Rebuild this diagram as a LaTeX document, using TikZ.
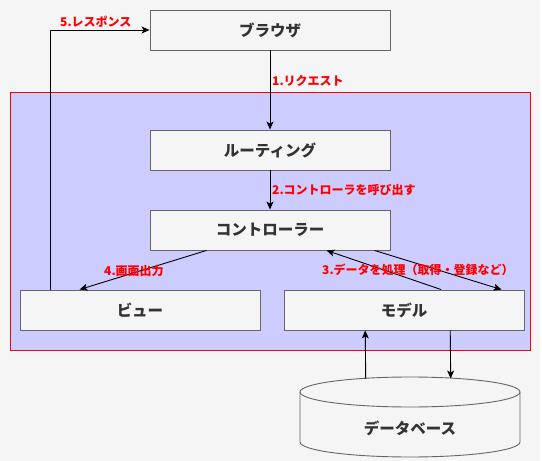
\documentclass[tikz,border=0pt]{standalone}
\usepackage{fontspec}
\setmainfont{Noto Sans CJK JP}
\usetikzlibrary{arrows.meta,calc}
\definecolor{boxfill}{HTML}{F5F5F5}
\definecolor{boxline}{HTML}{666666}
\definecolor{txt}{HTML}{333333}
\definecolor{cont}{HTML}{CCCCFF}
\definecolor{redc}{HTML}{FF0000}
\begin{document}
\begin{tikzpicture}[x=1pt,y=-1pt,
  box/.style={draw=boxline,fill=boxfill,line width=0.9pt,minimum width=240pt,minimum height=40pt,inner sep=0pt,text=txt,font=\fontsize{15.5}{18}\selectfont\bfseries},
  lbl/.style={anchor=west,inner sep=0pt,text=redc,font=\fontsize{12}{14}\selectfont\bfseries},
  arr/.style={draw=black,line width=0.9pt,-{Stealth[length=8pt,width=7pt,inset=2pt]}}]
\useasboundingbox (0,0) rectangle (542,461);
\fill[white] (0,0) rectangle (542,461);
\fill[boxfill] (0,0) rectangle (540,461);
% container
\draw[draw=redc,fill=cont,line width=0.9pt] (10,92) rectangle (530,350);
% nodes
\node[box] (browser) at (270,30) {ブラウザ};
\node[box] (routing) at (270,150) {ルーティング};
\node[box] (controller) at (270,230) {コントローラー};
\node[box] (view) at (140,310) {ビュー};
\node[box] (model) at (404,310) {モデル};
% database cylinder
\draw[draw=boxline,fill=boxfill,line width=0.9pt]
  (300,392) -- (300,442) arc[start angle=180,end angle=0,x radius=110,y radius=15] -- (520,392)
  arc[start angle=0,end angle=-180,x radius=110,y radius=15] -- cycle;
\draw[draw=boxline,line width=0.9pt] (300,392) arc[start angle=180,end angle=0,x radius=110,y radius=15];
\node[text=txt,font=\fontsize{15.5}{18}\selectfont\bfseries,inner sep=0pt] (db) at (410,428) {データベース};
\coordinate (dbin) at (450.7,378.5);
\coordinate (dbout) at (365.7,378.5);
% connectors
\draw[arr] (browser.south) -- (routing.north);
\draw[arr] (routing.south) -- (controller.north);
\draw[arr] ([xshift=57pt]controller.south west) -- ([xshift=60pt]view.north west);
\draw[arr] ([xshift=157.6pt]model.north west) -- ([xshift=177pt]controller.south west);
\draw[arr] ([xshift=225pt]controller.south west) -- ([xshift=218pt]model.north west);
\draw[arr] ([xshift=31pt]view.north west) |- (browser.west);
\draw[arr] ([xshift=166.7pt]model.south west) -- (dbin);
\draw[arr] (dbout) -- ([xshift=81.7pt]model.south west);
% labels
\node[lbl] (l1) at (272,81) {1.リクエスト};
\node[lbl] (l2) at (272,190) {2.コントローラを呼び出す};
\node[lbl] (l3) at (322,270) {3.データを処理（取得・登録など）};
\node[lbl] (l4) at (104,271) {4.画面出力};
\node[lbl] (l5) at (60,22) {5.レスポンス};
\end{tikzpicture}
\end{document}
